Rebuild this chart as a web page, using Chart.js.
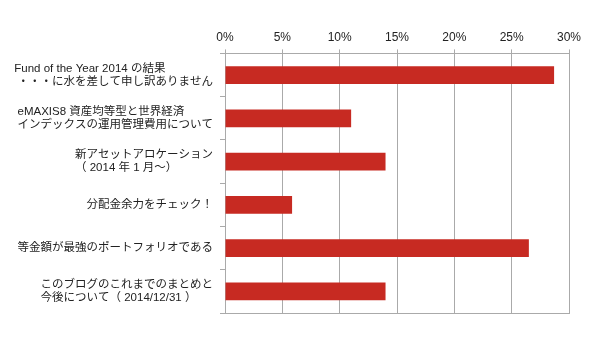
<!DOCTYPE html>
<html lang="ja">
<head>
<meta charset="utf-8">
<title>人気記事</title>
<script src="https://cdn.jsdelivr.net/npm/chart.js@4/dist/chart.umd.min.js"></script>
<style>
    html, body { margin: 0; padding: 0; background: #fff; }
    #wrap { width: 600px; height: 337px; position: relative; }
</style>
</head>
<body>
<div id="wrap"><canvas id="chart"></canvas></div>
<script>
// article titles, one array per label (split into lines)
const categories = [
    ['Fund of the Year 2014 の結果', ' ・・・に水を差して申し訳ありません'],
    ['eMAXIS8 資産均等型と世界経済', 'インデックスの運用管理費用について'],
    ['新アセットアロケーション', '（ 2014 年 1 月〜）'],
    ['分配金余力をチェック！'],
    ['等金額が最強のポートフォリオである'],
    ['このブログのこれまでのまとめと', '今後について（ 2014/12/31 ）']
];
const shares = [28.7, 11.0, 14.0, 5.85, 26.5, 14.0];
const xTicks = [0, 5, 10, 15, 20, 25, 30];

const FONT = 'Helvetica, Arial, "Liberation Sans", "Noto Sans CJK JP", sans-serif';
const GRID = '#aaaaaa';

// y labels: each block is left aligned, the block itself sits against the axis
const blockLabels = {
    id: 'blockLabels',
    afterDraw(chart) {
        const ctx = chart.ctx;
        const y = chart.scales.y;
        const lineH = 13;
        ctx.save();
        ctx.font = '11.5px ' + FONT;
        ctx.fillStyle = '#222';
        ctx.textAlign = 'left';
        ctx.textBaseline = 'middle';
        categories.forEach((lines, i) => {
            const cy = y.getPixelForValue(i);
            const w = Math.max(...lines.map(l => ctx.measureText(l).width));
            const x0 = y.right - 12 - w;
            const top = cy - (lines.length - 1) * lineH / 2;
            lines.forEach((l, j) => ctx.fillText(l, x0, top + j * lineH));
        });
        ctx.restore();
    }
};

new Chart(document.getElementById('chart'), {
    type: 'bar',
    data: {
        labels: categories.map(l => l.join(' ')),
        datasets: [{
            data: shares,
            backgroundColor: '#c72a22',
            borderWidth: 0,
            barPercentage: 0.41,
            categoryPercentage: 1
        }]
    },
    options: {
        indexAxis: 'y',
        responsive: true,
        maintainAspectRatio: false,
        animation: false,
        layout: { padding: { top: 25, right: 31, bottom: 16, left: 0 } },
        plugins: {
            legend: { display: false },
            tooltip: { enabled: false }
        },
        scales: {
            x: {
                position: 'top',
                min: 0,
                max: 30,
                afterBuildTicks: s => { s.ticks = xTicks.map(v => ({ value: v })); },
                ticks: {
                    color: '#222',
                    font: { family: FONT, size: 12 },
                    padding: 5,
                    maxRotation: 0,
                    callback: v => v + '%'
                },
                grid: { color: GRID, tickColor: GRID, tickLength: 4, lineWidth: 1 },
                border: { color: GRID }
            },
            // bottom frame line only
            xb: {
                position: 'bottom',
                min: 0,
                max: 30,
                ticks: { display: false },
                grid: { display: false },
                border: { color: GRID }
            },
            y: {
                ticks: { display: false },
                afterFit: s => { s.width = 225; },
                grid: {
                    offset: true,
                    color: c => (c.index === 0 || c.index === undefined) ? GRID : 'rgba(0,0,0,0)',
                    tickColor: GRID,
                    tickLength: 5
                },
                border: { color: GRID }
            }
        }
    },
    plugins: [blockLabels]
});
</script>
</body>
</html>
